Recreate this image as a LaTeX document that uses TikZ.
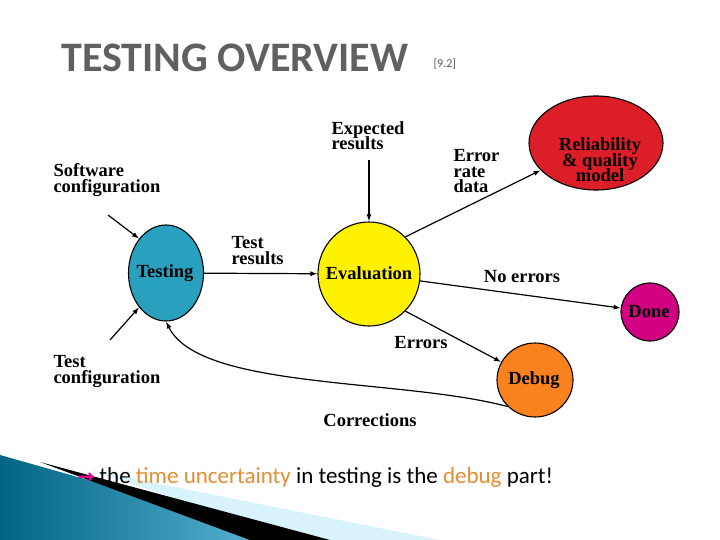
\documentclass[tikz,border=0pt]{standalone}
\usepackage{fontspec}
\setmainfont{Liberation Serif}
\newfontfamily\calfont{Carlito}
\usetikzlibrary{arrows.meta,shapes.geometric}
\definecolor{tealc}{RGB}{40,160,190}
\definecolor{redc}{RGB}{220,30,40}
\definecolor{orc}{RGB}{250,130,30}
\definecolor{magc}{RGB}{210,0,130}
\definecolor{txto}{RGB}{230,140,50}
\begin{document}
\begin{tikzpicture}[x=1pt,y=-1pt,
  st/.style={draw,line width=1.1pt,ellipse},
  lb/.style={font=\fontsize{18.5}{18.5}\selectfont\bfseries,align=left},
  ar/.style={-{Latex[length=7pt,width=5pt]},line width=1.2pt}]
\useasboundingbox (0,0) rectangle (720,540);
% bottom decoration
\shade[left color={rgb,255:red,0;green,100;blue,130},right color={rgb,255:red,100;green,190;blue,220}] (0,455) -- (300,540) -- (0,540) -- cycle;
\fill[cyan!15] (90,470) -- (440,540) -- (300,540) -- cycle;
\fill[black] (40,462) -- (330,540) -- (250,540) -- cycle;
% title
\node[font={\fontsize{42}{42}\selectfont\calfont\bfseries}, text=gray!75!black, anchor=west] (title) at (58,58) {TESTING OVERVIEW};
\node[font={\fontsize{12}{12}\selectfont\calfont}, text=gray!70!black, anchor=west] (ref) at (430,64) {[9.2]};
% states
\node[st,fill=tealc,minimum width=75pt,minimum height=96pt] (testing) at (166,273) {};
\node[lb] at (165,273) {Testing};
\node[st,fill=yellow,minimum width=102pt,minimum height=104pt] (eval) at (369,274) {};
\node[lb] at (369,273) {Evaluation};
\node[st,fill=redc,minimum width=134pt,minimum height=94pt,inner sep=0pt] (rel) at (596,143) {};
\node[lb,align=center] at (600,160) {Reliability\\[-3pt]\& quality\\[-3pt]model};
\node[st,fill=magc,minimum width=58pt,minimum height=58pt] (done) at (650,312) {};
\node[lb] at (649,312) {Done};
\node[st,fill=orc,minimum width=76pt,minimum height=74pt] (debug) at (535,380) {};
\node[lb] at (534,380) {Debug};
% labels
\node[lb,anchor=north west] (sw) at (50,160) {Software\\[-3pt]configuration};
\node[lb,anchor=north west] (tc) at (50,352) {Test\\[-3pt]configuration};
\node[lb,anchor=north west] (exp) at (328,118) {Expected\\[-3pt]results};
\node[lb,anchor=north west] (err) at (450,146) {Error\\[-3pt]rate\\[-3pt]data};
\node[lb,anchor=north west] (tr) at (228,233) {Test\\[-3pt]results};
\node[lb] (noerr) at (522,277) {No errors};
\node[lb] (errs) at (421,343) {Errors};
\node[lb] (corr) at (370,420) {Corrections};
% connector free ends
\coordinate (swend) at (108,215);
\coordinate (tcend) at (110,340);
\coordinate (expend) at (369,160);
% arrows
\draw[ar] (swend) -- (testing.north west);
\draw[ar] (tcend) -- (testing.south west);
\draw[ar] (expend) -- (eval.north);
\draw[ar] (testing) -- (eval);
\draw[ar] (eval.north east) -- (rel);
\draw[ar] (eval) -- (done);
\draw[ar] (eval.south east) -- (debug);
\draw[ar] (debug.south west) .. controls (400,378) and (200,390) .. (testing.south);
% bottom text
\node[font={\fontsize{23}{23}\selectfont\calfont},anchor=west] (txt) at (74,477)
 {\textcolor{magenta}{\fontspec{DejaVu Sans}\fontsize{20}{20}\selectfont\textbf{→}} the \textcolor{txto}{time uncertainty} in testing is the \textcolor{txto}{debug} part!};
\end{tikzpicture}
\end{document}
